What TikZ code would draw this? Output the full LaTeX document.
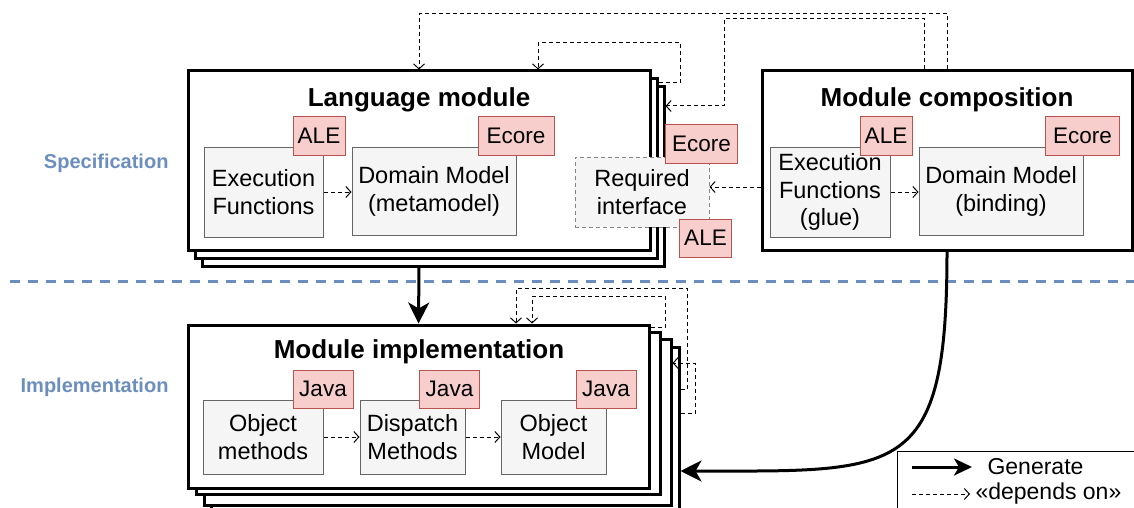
\documentclass[tikz,border=0pt]{standalone}
\usepackage{fontspec}
\setmainfont{Liberation Sans}
\usetikzlibrary{arrows.meta,calc}
\definecolor{tagfill}{HTML}{F8CECC}
\definecolor{tagdraw}{HTML}{B85450}
\definecolor{boxfill}{HTML}{F5F5F5}
\definecolor{boxdraw}{HTML}{666666}
\definecolor{layerblue}{HTML}{6C8EBF}
\begin{document}
\begin{tikzpicture}[x=1pt,y=-1pt,
  frame/.style={draw=black, line width=3pt, fill=white, rectangle, inner sep=0pt},
  ibox/.style={draw=boxdraw, fill=boxfill, line width=1pt, align=center, inner sep=0pt,
    font=\fontsize{23.5}{27.5}\selectfont},
  tag/.style={draw=tagdraw, fill=tagfill, line width=1pt, inner sep=0pt,
    minimum height=38pt, font=\fontsize{22.5}{27}\selectfont},
  ttl/.style={font=\fontsize{26}{30}\selectfont\bfseries},
  dep/.style={draw=black, line width=1pt, dash pattern=on 4pt off 3pt,
    -{Straight Barb[length=5pt,width=11pt]}},
  gen/.style={draw=black, line width=3pt, -{Stealth[length=21pt,width=21pt,inset=6pt]}},
  layer/.style={text=layerblue, font=\fontsize{20}{24}\selectfont\bfseries, anchor=east},
  legtext/.style={font=\fontsize{23}{27}\selectfont},
]
\useasboundingbox (0,0) rectangle (1134,508);

% layer labels and separator
\node[layer] (spec) at (172,163) {Specification};
\node[layer] (impl) at (172,387) {Implementation};
\draw[layerblue, line width=3pt, dash pattern=on 10pt off 8pt] (10,281) -- (1134,281);

% Language module stack
\node[frame, minimum width=462pt, minimum height=179pt] (lm3) at (433,176.5) {};
\node[frame, minimum width=462pt, minimum height=179pt] (lm2) at (426,168.5) {};
\node[frame, minimum width=462pt, minimum height=179pt] (lm) at (419,160.5) {};
\node[ttl] (lmt) at (419,100) {Language module};

% Module composition
\node[frame, minimum width=370pt, minimum height=179pt] (mc) at (947,160.5) {};
\node[ttl] (mct) at (947,100) {Module composition};

% Module implementation stack
\node[frame, minimum width=468pt, minimum height=170pt] (mi4) at (445,432) {};
\node[frame, minimum width=467pt, minimum height=166pt] (mi3) at (437.5,422) {};
\node[frame, minimum width=464pt, minimum height=162pt] (mi2) at (428,413) {};
\node[frame, minimum width=461pt, minimum height=163pt] (mi) at (418.5,406.5) {};
\node[ttl] (mit) at (419,352) {Module implementation};

% inner boxes: language module
\node[ibox, minimum width=119pt, minimum height=90pt] (ef) at (263.5,192) {Execution\\Functions};
\node[ibox, minimum width=164pt, minimum height=88pt] (dm) at (434,191.5) {Domain Model\\(metamodel)};
\node[tag, minimum width=52pt] (t1) at (319,136) {ALE};
\node[tag, minimum width=76pt] (t2) at (516,136) {Ecore};

% required interface
\node[ibox, draw=boxdraw!80, dash pattern=on 4pt off 3pt, minimum width=134pt, minimum height=70pt] (ri) at (642,192) {Required\\interface};
\node[tag, minimum width=72pt] (t3) at (701.5,144) {Ecore};
\node[tag, minimum width=52pt] (t4) at (705.5,238) {ALE};

% inner boxes: composition
\node[ibox, minimum width=120pt, minimum height=90pt] (eg) at (830,192) {Execution\\Functions\\(glue)};
\node[ibox, minimum width=164pt, minimum height=88pt] (db) at (1001,191.5) {Domain Model\\(binding)};
\node[tag, minimum width=52pt] (t5) at (886,136) {ALE};
\node[tag, minimum width=74pt] (t6) at (1082.5,136) {Ecore};

% inner boxes: implementation
\node[ibox, minimum width=120pt, minimum height=74pt] (om) at (263,437) {Object\\methods};
\node[ibox, minimum width=105pt, minimum height=74pt] (dp) at (412.5,437) {Dispatch\\Methods};
\node[ibox, minimum width=105pt, minimum height=74pt] (obm) at (553.5,437) {Object\\Model};
\node[tag, minimum width=60pt] (j1) at (323,389) {Java};
\node[tag, minimum width=60pt] (j2) at (449.5,389) {Java};
\node[tag, minimum width=60pt] (j3) at (606,389) {Java};

% dependencies inside modules
\draw[dep] (ef.east) -- (ef.east -| dm.west);
\draw[dep] (eg.east) -- (eg.east -| db.west);
\draw[dep] (om.east) -- (om.east -| dp.west);
\draw[dep] (dp.east) -- (dp.east -| obm.west);
\draw[dep] (mc.west |- 0,187) -- (ri.east |- 0,187);

% dependencies on top
\draw[dep] (mc.north) -- (947,14) -| (lm.north);
\draw[dep] ($(mc.north)+(-23,0)$) |- (724,19) |- (lm3.east |- 0,106);
\draw[dep] (lm2.east |- 0,83) -| (680,43) -| (lm.north -| 538,0);

% self-dependencies of implementation
\draw[dep] (mi4.east |- 0,389) -| (687,288) -| (mi.north -| 516,0);
\draw[dep] (mi.east |- 0,327) -| (665,296) -| (mi.north -| 532,0);
\draw[dep] (mi4.east |- 0,413) -| (695,363) -- (mi3.east |- 0,363);

% generate arrows
\draw[gen] (lm.south |- lm3.south) -- (mi.north);
\draw[gen] (mc.south) .. controls (947,480) and (900,471) .. (mi4.east |- 0,471);

% legend
\node[draw=black, line width=1pt, minimum width=240pt, minimum height=70pt, anchor=north west, inner sep=0pt] (leg) at (897,451) {};
\coordinate (ga) at (912,467);
\coordinate (gb) at (972,467);
\coordinate (da) at (912,494);
\coordinate (db2) at (970,494);
\draw[gen, -{Stealth[length=18pt,width=17pt,inset=5pt]}] (ga) -- (gb);
\draw[dep] (da) -- (db2);
\node[legtext, anchor=west] (lg1) at (984,467) {Generate};
\node[legtext, anchor=west] (lg2) at (972,494) {«depends on»};
\end{tikzpicture}
\end{document}
